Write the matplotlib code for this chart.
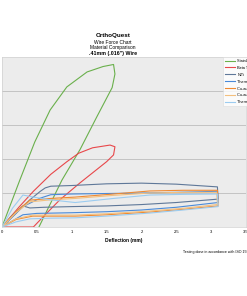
import numpy as np
import matplotlib
matplotlib.use("Agg")
import matplotlib.pyplot as plt

plt.rcParams['font.family'] = ['Liberation Sans', 'DejaVu Sans']

# deflection (mm) / force pairs, loading then unloading
labels = ["Stainless Steel", "Beta Titanium", "NiTi", "Thermal NiTi",
          "Cu-austenite 27", "Cu-austenite 35", "Thermal NiTi 40"]
colors = ["#6ab04c", "#e8474a", "#5f7899", "#4a8ad8", "#f08a32", "#f3c07e", "#9cccf0"]

ss_x = [0, 0.25, 0.47, 0.69, 0.93, 1.22, 1.45, 1.60, 1.62, 1.58, 1.36, 1.12, 0.86, 0.53]
ss_y = [0, 1.35, 2.50, 3.44, 4.12, 4.56, 4.72, 4.78, 4.50, 4.10, 3.24, 2.28, 1.38, 0]

bt_x = [0, 0.25, 0.45, 0.70, 0.93, 1.10, 1.30, 1.55, 1.62, 1.60, 1.50, 1.12, 0.83, 0.60, 0.45, 0]
bt_y = [0, 0.60, 1.05, 1.55, 1.92, 2.17, 2.33, 2.41, 2.36, 2.12, 1.92, 1.30, 0.80, 0.32, 0, 0]

niti_x = [0, 0.2, 0.4, 0.55, 0.62, 0.7, 1.0, 1.5, 2.0, 2.5, 3.09, 3.10, 2.5, 2.0, 1.5, 1.0, 0.6, 0.4, 0.3, 0.15, 0]
niti_y = [0, 0.40, 0.80, 1.05, 1.15, 1.20, 1.22, 1.27, 1.29, 1.26, 1.18, 0.82, 0.72, 0.66, 0.62, 0.60, 0.58, 0.56, 0.62, 0.35, 0]

th_x = [0, 0.3, 0.55, 0.7, 1.0, 2.0, 2.5, 3.09, 3.10, 2.5, 2.0, 1.5, 1.0, 0.5, 0.3, 0]
th_y = [0, 0.60, 0.85, 0.95, 0.97, 1.00, 1.02, 1.05, 0.72, 0.58, 0.50, 0.45, 0.42, 0.40, 0.36, 0]

cu1_x = [0, 0.2, 0.4, 0.7, 1.05, 1.6, 2.12, 2.6, 3.09, 3.10, 2.6, 2.12, 1.5, 1.05, 0.44, 0.2, 0]
cu1_y = [0, 0.45, 0.79, 0.84, 0.88, 0.97, 1.06, 1.08, 1.08, 0.62, 0.52, 0.44, 0.36, 0.32, 0.32, 0.22, 0]

cu2_x = [0, 0.2, 0.4, 0.7, 1.05, 1.6, 2.12, 2.6, 3.08, 3.09, 2.6, 2.12, 1.5, 1.05, 0.44, 0.2, 0]
cu2_y = [0, 0.42, 0.74, 0.80, 0.84, 0.93, 1.00, 1.02, 1.02, 0.66, 0.55, 0.47, 0.39, 0.35, 0.35, 0.24, 0]

th2_x = [0, 0.15, 0.3, 0.45, 0.69, 1.05, 1.6, 2.12, 2.6, 3.09, 3.10, 2.6, 2.12, 1.5, 1.05, 0.69, 0.4, 0.2, 0]
th2_y = [0, 0.55, 0.94, 0.88, 0.80, 0.72, 0.84, 0.94, 0.96, 0.97, 0.60, 0.50, 0.41, 0.32, 0.27, 0.26, 0.24, 0.15, 0]

xs = [ss_x, bt_x, niti_x, th_x, cu1_x, cu2_x, th2_x]
ys = [ss_y, bt_y, niti_y, th_y, cu1_y, cu2_y, th2_y]

fig = plt.figure(figsize=(2.47, 2.96), dpi=100)
ax = fig.add_axes([2 / 247, 69 / 296, 244 / 247, 170 / 296])
ax.set_facecolor("#ececec")

for x, y, c, lab in zip(xs, ys, colors, labels):
    ax.plot(x, y, color=c, lw=0.8, label=lab)

ax.set_xlim(0, 3.5)
ax.set_ylim(0, 5)
ax.set_xticks(np.arange(0, 3.51, 0.5))
ax.set_xticklabels(["0", "0.5", "1", "1.5", "2", "2.5", "3", "3.5"])
ax.set_yticks([1, 2, 3, 4])
ax.set_yticklabels([])
ax.tick_params(axis='x', labelsize=3, length=0, pad=2)
ax.tick_params(axis='y', length=0)
ax.grid(axis='y', color="#bdbdbd", lw=0.6)
ax.set_axisbelow(True)
for s in ax.spines.values():
    s.set_color("#d0d0d0")
    s.set_linewidth(0.5)

ax.set_xlabel("Deflection (mm)", fontsize=3.5, fontweight='bold', labelpad=3)

fig.text(113 / 247, 1 - 35 / 296, "OrthoQuest", ha='center', va='center', fontsize=4.5, fontweight='bold')
fig.text(113 / 247, 1 - 42 / 296, "Wire Force Chart", ha='center', va='center', fontsize=3.5)
fig.text(113 / 247, 1 - 48 / 296, "Material Comparison", ha='center', va='center', fontsize=3.5)
fig.text(113 / 247, 1 - 53.5 / 296, ".41mm (.016\") Wire", ha='center', va='center', fontsize=3.8, fontweight='bold')

fig.text(183 / 247, 1 - 252 / 296, "Testing done in accordance with ISO 15841", ha='left', va='center', fontsize=2.6)

leg = fig.legend(loc='upper left', bbox_to_anchor=(221 / 247, 1 - 55 / 296), fontsize=2.8,
                 frameon=True, handlelength=2.6, labelspacing=0.75, borderpad=0.5, handletextpad=0.6)
leg.get_frame().set_linewidth(0.4)
leg.get_frame().set_edgecolor("#d8d8d8")
leg.get_frame().set_boxstyle("square", pad=0)

fig.savefig("out.png", dpi=100)
